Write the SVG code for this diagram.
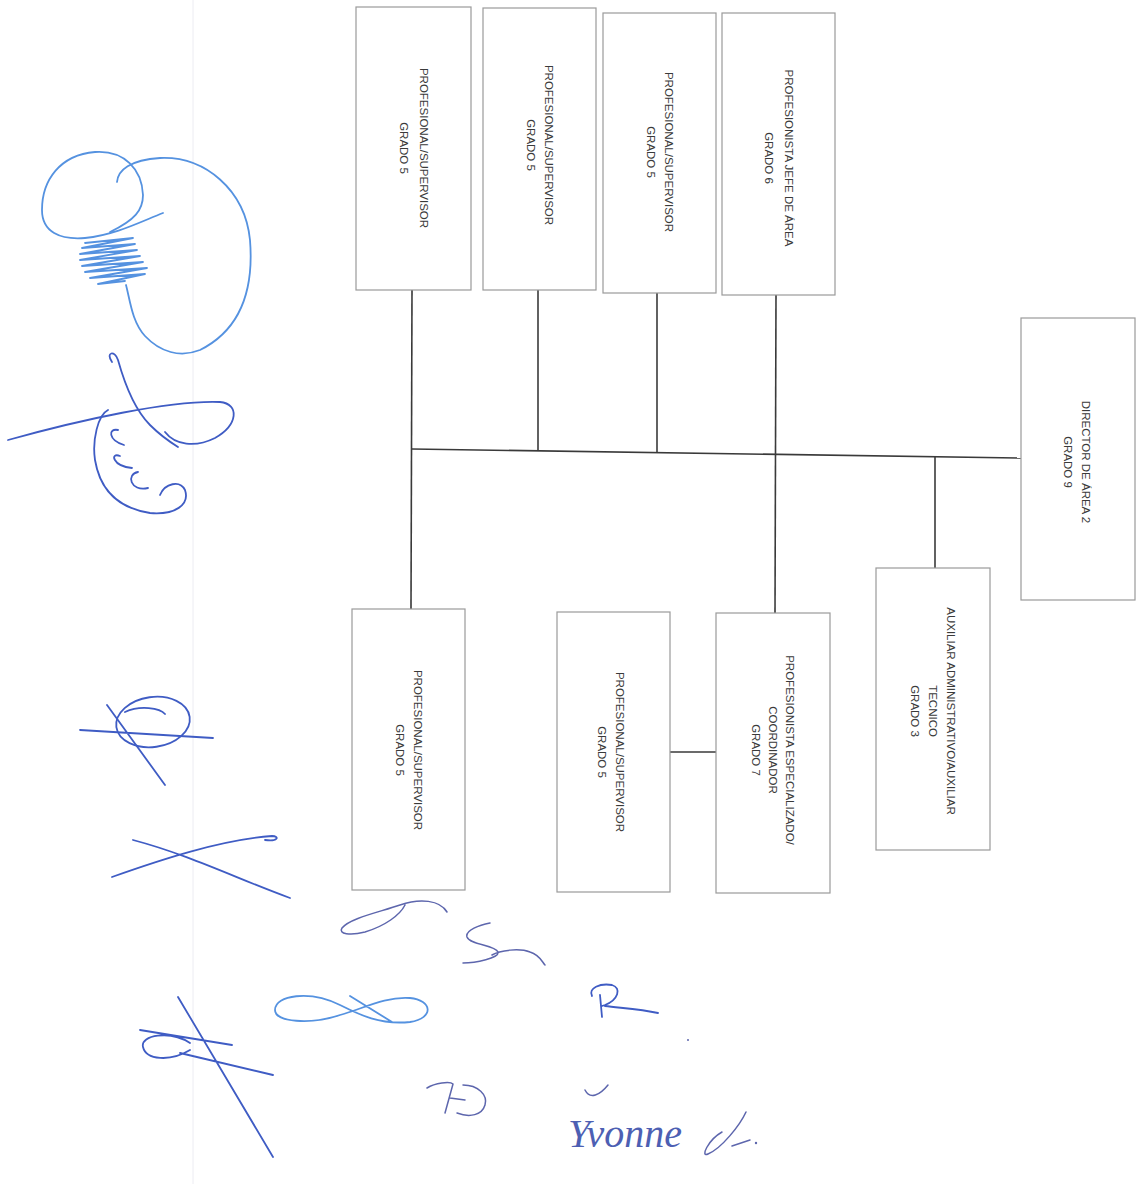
<svg xmlns="http://www.w3.org/2000/svg" width="1136" height="1184" viewBox="0 0 1136 1184">
<style>
.box{fill:#ffffff;stroke:#9a9a9a;stroke-width:1.2}
.lbl{font-family:"Liberation Sans",Arial,sans-serif;font-size:11.5px;fill:#3a3a3a;text-anchor:middle;dominant-baseline:central}
.con{stroke:#3a3a3a;stroke-width:1.6;fill:none}
.sigL{fill:none;stroke:#5592e0;stroke-width:1.8;stroke-linecap:round;stroke-linejoin:round}
.sigD{fill:none;stroke:#3f5cc4;stroke-width:1.8;stroke-linecap:round;stroke-linejoin:round}
.sigG{fill:none;stroke:#5d66ad;stroke-width:1.5;stroke-linecap:round;stroke-linejoin:round}
</style>
<rect width="1136" height="1184" fill="#ffffff"/>
<line x1="193" y1="0" x2="193" y2="1184" stroke="#ececf2" stroke-width="1"/>

<g id="connectors">
<line class="con" x1="412" y1="449" x2="1021" y2="458"/>
<line class="con" x1="412" y1="290" x2="411" y2="609"/>
<line class="con" x1="538" y1="290" x2="538" y2="451"/>
<line class="con" x1="657" y1="293" x2="657" y2="452"/>
<line class="con" x1="776" y1="295" x2="775" y2="613"/>
<line class="con" x1="935" y1="457" x2="935" y2="568"/>
<line class="con" x1="670" y1="752" x2="716" y2="752"/>
</g>

<g id="node-a">
<rect class="box" x="356" y="7" width="115" height="283"/>
<g transform="translate(413.5,148) rotate(90)"><text class="lbl" x="0" y="-10">PROFESIONAL/SUPERVISOR</text><text class="lbl" x="0" y="10">GRADO 5</text></g>
</g>
<g id="node-b">
<rect class="box" x="483" y="8" width="113" height="282"/>
<g transform="translate(539.5,145) rotate(90)"><text class="lbl" x="0" y="-9">PROFESIONAL/SUPERVISOR</text><text class="lbl" x="0" y="9">GRADO 5</text></g>
</g>
<g id="node-c">
<rect class="box" x="603" y="13" width="113" height="280"/>
<g transform="translate(660,152) rotate(90)"><text class="lbl" x="0" y="-9">PROFESIONAL/SUPERVISOR</text><text class="lbl" x="0" y="9">GRADO 5</text></g>
</g>
<g id="node-d">
<rect class="box" x="722" y="13" width="113" height="282"/>
<g transform="translate(778.5,158) rotate(90)"><text class="lbl" x="0" y="-10">PROFESIONISTA JEFE DE ÁREA</text><text class="lbl" x="0" y="10">GRADO 6</text></g>
</g>
<g id="node-director">
<rect class="box" x="1021" y="318" width="114" height="282"/>
<g transform="translate(1077,462) rotate(90)"><text class="lbl" x="0" y="-9">DIRECTOR DE ÁREA 2</text><text class="lbl" x="0" y="9">GRADO 9</text></g>
</g>
<g id="node-e">
<rect class="box" x="352" y="609" width="113" height="281"/>
<g transform="translate(408.5,750) rotate(90)"><text class="lbl" x="0" y="-9">PROFESIONAL/SUPERVISOR</text><text class="lbl" x="0" y="9">GRADO 5</text></g>
</g>
<g id="node-f">
<rect class="box" x="557" y="612" width="113" height="280"/>
<g transform="translate(611,752) rotate(90)"><text class="lbl" x="0" y="-9">PROFESIONAL/SUPERVISOR</text><text class="lbl" x="0" y="9">GRADO 5</text></g>
</g>
<g id="node-g">
<rect class="box" x="716" y="613" width="114" height="280"/>
<g transform="translate(773,750) rotate(90)"><text class="lbl" x="0" y="-17">PROFESIONISTA ESPECIALIZADO/</text><text class="lbl" x="0" y="0">COORDINADOR</text><text class="lbl" x="0" y="17">GRADO 7</text></g>
</g>
<g id="node-h">
<rect class="box" x="876" y="568" width="114" height="282"/>
<g transform="translate(933,711) rotate(90)"><text class="lbl" x="0" y="-18">AUXILIAR ADMINISTRATIVO/AUXILIAR</text><text class="lbl" x="0" y="0">TECNICO</text><text class="lbl" x="0" y="18">GRADO 3</text></g>
</g>

<g id="signatures">
<path class="sigL" d="M117,182 C118,170 130,160 160,158 C205,156 245,190 250,240 C254,290 240,330 200,350 C180,358 160,352 145,336 C132,322 130,300 126,285"/>
<path class="sigL" d="M163,213 C140,222 115,235 85,238 C60,240 42,232 42,210 C42,180 60,155 95,152 C125,150 142,170 143,195 C143,210 135,220 110,232"/>
<path class="sigL" d="M85,243 L133,238 L82,248 L135,244 L80,254 L137,250 L80,260 L140,256 L82,266 L143,262 L85,272 L147,268 L90,278 L145,274 L98,284 L125,281"/>
<path class="sigD" d="M8,440 C80,420 170,400 220,402 C240,404 238,425 215,438 C195,448 175,445 165,432"/>
<path class="sigD" d="M112,362 C105,352 115,350 118,360 C125,385 135,410 150,425 C160,435 170,442 178,447"/>
<path class="sigD" d="M108,410 C98,415 92,440 95,460 C100,490 118,508 150,513 C175,515 190,505 185,490 C180,480 165,483 160,495"/>
<path class="sigD" d="M118,430 C108,428 108,440 124,445 M120,456 C110,452 112,466 132,468 M138,472 C126,474 130,492 148,488"/>
<ellipse class="sigD" cx="153" cy="722" rx="37" ry="25" transform="rotate(-8 153 722)"/>
<path class="sigD" d="M125,712 C140,705 160,708 165,714 M80,730 L213,738 M107,705 L165,785"/>
<path class="sigD" d="M133,840 C190,855 240,880 290,898 M112,877 C160,860 220,840 272,836 C280,836 278,842 265,840"/>
<path class="sigD" d="M178,997 L273,1157 M140,1030 L232,1045 M190,1043 C170,1030 140,1035 143,1047 C146,1060 170,1062 190,1050 M180,1053 L273,1075"/>
<path class="sigL" d="M275,1010 C275,995 310,990 340,1005 C360,1015 380,1025 410,1022 C435,1018 432,1000 410,998 C385,996 360,1010 340,1015 C310,1025 275,1022 275,1010 Z M350,996 L392,1022"/>
<path class="sigG" d="M447,912 C440,900 420,898 400,905 C380,912 350,918 342,928 C338,934 350,936 365,932 C385,926 400,915 405,905"/>
<path class="sigG" d="M490,923 C480,925 465,930 467,937 C470,945 495,945 498,952 C500,958 475,963 463,963 M492,955 C500,950 520,948 530,952 C540,955 542,962 545,965"/>
<path class="sigD" d="M592,996 C588,988 600,983 612,985 C622,988 618,1000 605,1005 L602,1006 M600,995 L602,1017 M605,1006 C620,1008 640,1009 658,1013"/>
<circle cx="688" cy="1040" r="1" fill="#5d66ad"/>
<path class="sigG" d="M427,1088 C435,1083 450,1081 453,1084 L445,1113 M463,1085 C478,1085 488,1095 485,1105 C482,1115 470,1118 457,1113 M450,1098 L465,1100"/>
<path class="sigG" d="M585,1090 C590,1100 600,1095 608,1085"/>
<text x="568" y="1147" font-family="Liberation Serif, serif" font-style="italic" font-size="40" fill="#4d5fb3">Yvonne</text>
<path class="sigG" d="M722,1132 C708,1140 700,1158 708,1154 C722,1148 740,1125 746,1112 M732,1146 L750,1140"/>
<circle cx="756" cy="1143" r="1.2" fill="#5d66ad"/>
</g>
</svg>
